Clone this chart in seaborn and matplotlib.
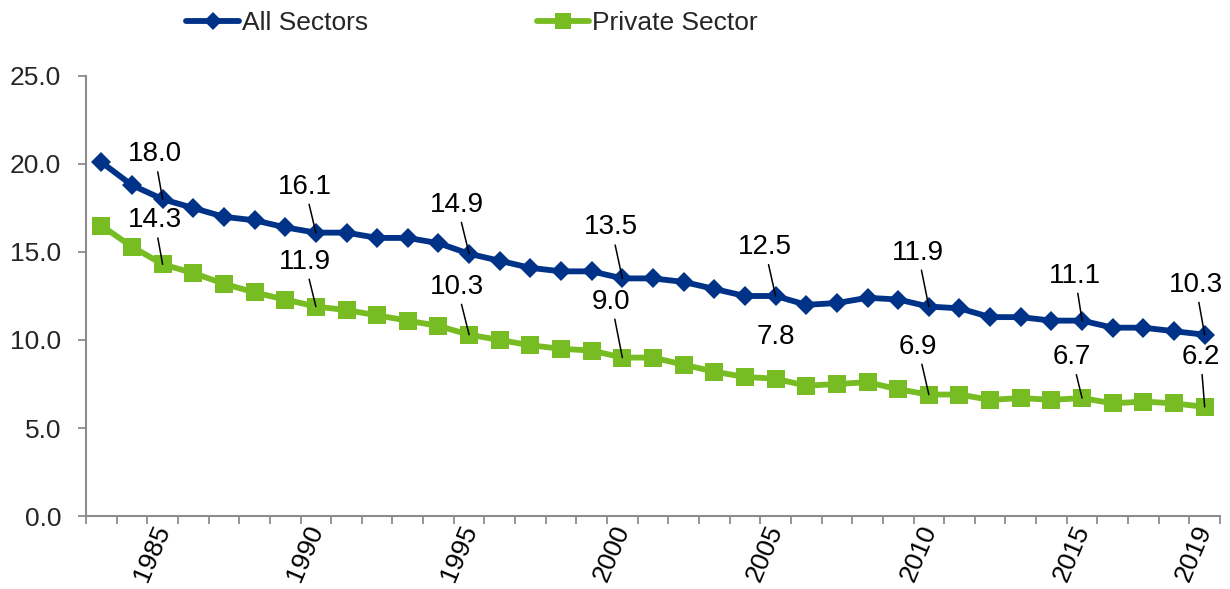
import numpy as np
import pandas as pd
import matplotlib
matplotlib.use("Agg")
import matplotlib.pyplot as plt
import matplotlib.transforms as mtransforms
from matplotlib.lines import Line2D
import seaborn as sns

# Union membership rate (%), 1983-2019
years = list(range(1983, 2020))
all_sectors = [20.1, 18.8, 18.0, 17.5, 17.0, 16.8, 16.4, 16.1, 16.1, 15.8,
               15.8, 15.5, 14.9, 14.5, 14.1, 13.9, 13.9, 13.5, 13.5, 13.3,
               12.9, 12.5, 12.5, 12.0, 12.1, 12.4, 12.3, 11.9, 11.8, 11.3,
               11.3, 11.1, 11.1, 10.7, 10.7, 10.5, 10.3]
private_sector = [16.5, 15.3, 14.3, 13.8, 13.2, 12.7, 12.3, 11.9, 11.7, 11.4,
                  11.1, 10.8, 10.3, 10.0, 9.7, 9.5, 9.4, 9.0, 9.0, 8.6,
                  8.2, 7.9, 7.8, 7.4, 7.5, 7.6, 7.2, 6.9, 6.9, 6.6,
                  6.7, 6.6, 6.7, 6.4, 6.5, 6.4, 6.2]
series_names = ["All Sectors", "Private Sector"]
tick_years = [1985, 1990, 1995, 2000, 2005, 2010, 2015, 2019]
y_ticks = [0, 5, 10, 15, 20, 25]

BLUE = "#003288"
GREEN = "#77BC22"
GRAY = "#8C8C8C"
FS = 19
FS_VALUE = 20

df = pd.DataFrame({
    "year": years * 2,
    "rate": all_sectors + private_sector,
    "series": [series_names[0]] * len(years) + [series_names[1]] * len(years),
})

sns.set_theme(style="ticks")
plt.rcParams["font.family"] = ["Liberation Sans", "DejaVu Sans"]

fig = plt.figure(figsize=(12.3, 5.89), dpi=100)
ax = fig.add_axes([86 / 1230, 73 / 589, (1220 - 86) / 1230, (516 - 76) / 589])

styles = {
    "All Sectors": dict(color=BLUE, marker="D", ms=10.5),
    "Private Sector": dict(color=GREEN, marker="s", ms=13),
}
for name in series_names:
    st = styles[name]
    sns.lineplot(data=df[df["series"] == name], x="year", y="rate", ax=ax,
                 color=st["color"], marker=st["marker"], markersize=st["ms"],
                 markeredgewidth=0, linewidth=4.2, legend=False)

# Value labels with leader lines (offsets in pixels from each point)
label_offsets = {
    "All Sectors": {1985: (-8, 45), 1990: (-11, 46), 1995: (-12, 49), 2000: (-11, 51),
                    2005: (-11, 49), 2010: (-11, 54), 2015: (-7, 45), 2019: (-9, 50)},
    "Private Sector": {1985: (-8, 44), 1990: (-11, 45), 1995: (-12, 48), 2000: (-11, 56),
                       2005: (0, 42), 2010: (-11, 48), 2015: (-10, 41), 2019: (-4, 50)},
}
values = {"All Sectors": all_sectors, "Private Sector": private_sector}
for name in series_names:
    for yr, (dx, dy) in label_offsets[name].items():
        v = values[name][years.index(yr)]
        leader = None if (name == "Private Sector" and yr == 2005) else dict(
            arrowstyle="-", color="black", lw=1.1, shrinkA=1, shrinkB=0)
        ax.annotate(f"{v:.1f}", xy=(yr, v), xytext=(dx, dy),
                    textcoords="offset pixels", ha="center", va="center",
                    fontsize=FS_VALUE, color="black", arrowprops=leader, zorder=5)

# Axes: ticks sit between categories, year labels are drawn slanted below
ax.set_xlim(1982.5, 2019.5)
ax.set_ylim(0, 25)
ax.set_xticks(np.arange(1982.5, 2020, 1.0))
ax.set_xticklabels([])
label_shift = mtransforms.ScaledTranslation(12 / 100, -15 / 100, fig.dpi_scale_trans)
for yr in tick_years:
    ax.text(yr, 0, str(yr), transform=ax.get_xaxis_transform() + label_shift,
            rotation=67, ha="right", va="bottom", rotation_mode="anchor",
            fontsize=FS, color="black", clip_on=False)
ax.set_yticks(y_ticks)
ax.set_yticklabels([f"{v:.1f}" for v in y_ticks])
ax.tick_params(axis="x", which="major", length=6, width=1.3, color=GRAY, direction="out")
ax.tick_params(axis="y", length=6, width=1.3, color=GRAY, direction="out", pad=12, labelsize=FS)
ax.set_xlabel("")
ax.set_ylabel("")
for side in ["top", "right"]:
    ax.spines[side].set_visible(False)
for side in ["left", "bottom"]:
    ax.spines[side].set_color(GRAY)
    ax.spines[side].set_linewidth(1.5)
ax.grid(False)

handles = [Line2D([], [], color=BLUE, marker="D", ms=9, mew=0, lw=4.2),
           Line2D([], [], color=GREEN, marker="s", ms=11, mew=0, lw=4.2)]
fig.legend(handles, series_names, loc="center", bbox_to_anchor=(472 / 1230, 1 - 23 / 589),
           ncol=2, frameon=False, handlelength=2.0, handletextpad=0.1,
           columnspacing=6.4, fontsize=FS, borderaxespad=0)

fig.savefig("out.png", dpi=100)
